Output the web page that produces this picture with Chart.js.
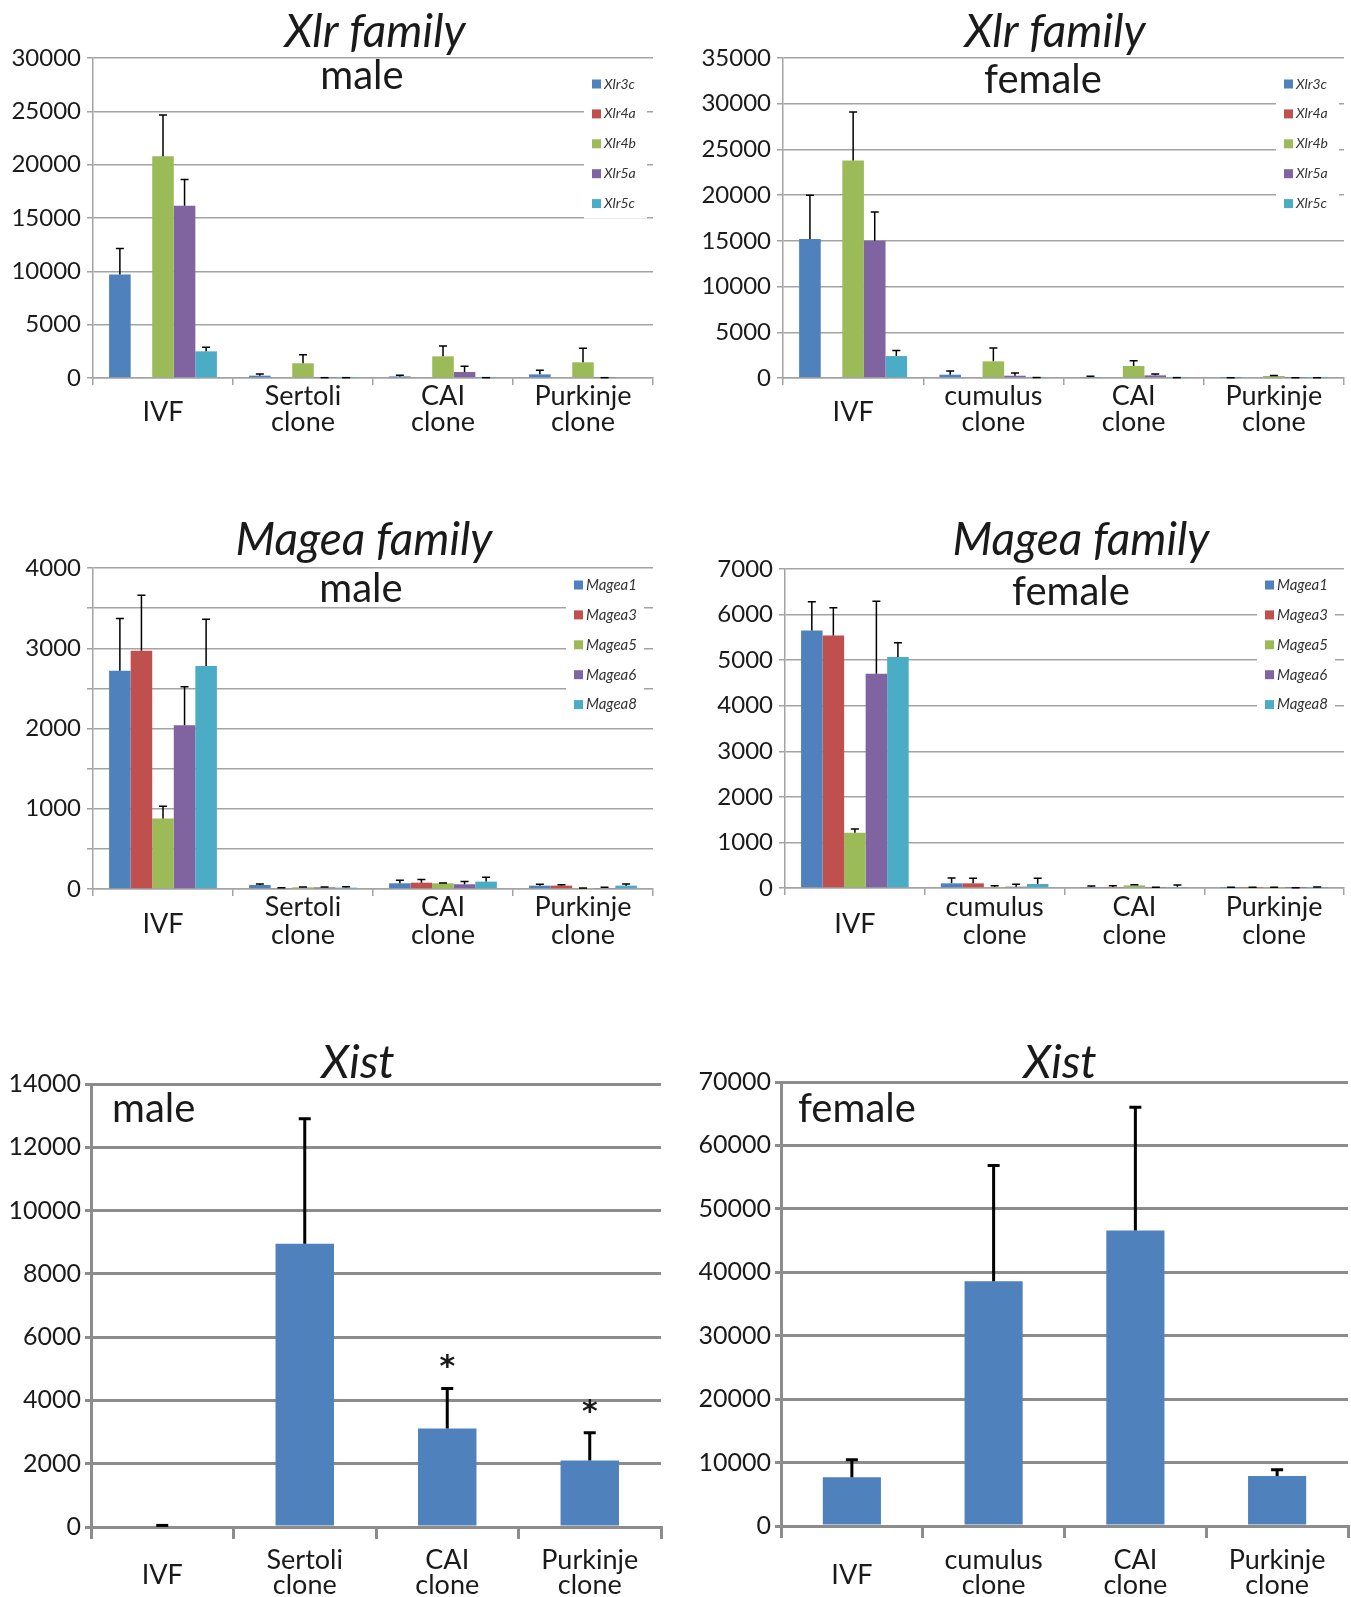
<!DOCTYPE html>
<html>
<head>
<meta charset="utf-8">
<script src="https://cdn.jsdelivr.net/npm/chart.js@4.4.1/dist/chart.umd.min.js"></script>
<style>
  body { margin: 0; background: #fff; width: 1351px; height: 1597px; position: relative; overflow: hidden; }
  canvas { position: absolute; }
</style>
</head>
<body>
<canvas id="xlrMale"></canvas>
<canvas id="xlrFemale"></canvas>
<canvas id="mageaMale"></canvas>
<canvas id="mageaFemale"></canvas>
<canvas id="xistMale"></canvas>
<canvas id="xistFemale"></canvas>
<script>
// categories
const maleGroups = ['IVF', 'Sertoli clone', 'CAI clone', 'Purkinje clone'];
const femaleGroups = ['IVF', 'cumulus clone', 'CAI clone', 'Purkinje clone'];
const xlrGenes = ['Xlr3c', 'Xlr4a', 'Xlr4b', 'Xlr5a', 'Xlr5c'];
const mageaGenes = ['Magea1', 'Magea3', 'Magea5', 'Magea6', 'Magea8'];
const geneColors = ['#4f81bd', '#c0504d', '#9bbb59', '#8064a2', '#4bacc6'];

// one row per gene, one column per group
const xlrMaleMean = [
  [9700, 220, 150, 340],
  [0, 0, 0, 0],
  [20800, 1380, 2030, 1470],
  [16150, 30, 560, 30],
  [2500, 30, 30, 0]
];
const xlrMaleErr = [
  [2450, 150, 100, 380],
  [0, 0, 0, 0],
  [3850, 810, 970, 1310],
  [2470, 0, 530, 0],
  [375, 0, 0, 0]
];
const xlrFemaleMean = [
  [15200, 360, 110, 30],
  [0, 0, 0, 0],
  [23800, 1820, 1310, 220],
  [15000, 250, 290, 30],
  [2400, 50, 40, 30]
];
const xlrFemaleErr = [
  [4800, 400, 70, 0],
  [0, 0, 0, 0],
  [5300, 1460, 590, 40],
  [3150, 300, 150, 0],
  [600, 0, 0, 0]
];
const mageaMaleMean = [
  [2720, 50, 71, 42],
  [2970, 8, 79, 42],
  [880, 21, 71, 12],
  [2040, 21, 59, 12],
  [2780, 17, 92, 42]
];
const mageaMaleErr = [
  [650, 13, 38, 17],
  [690, 7, 38, 12],
  [150, 4, 4, 0],
  [480, 4, 33, 9],
  [580, 12, 54, 21]
];
const mageaFemaleMean = [
  [5650, 102, 22, 5],
  [5540, 102, 22, 5],
  [1210, 22, 58, 8],
  [4700, 29, 7, 3],
  [5070, 88, 22, 8]
];
const mageaFemaleErr = [
  [630, 117, 22, 10],
  [610, 110, 29, 10],
  [85, 29, 15, 7],
  [1590, 51, 8, 5],
  [310, 124, 44, 14]
];
const xistMaleMean = [50, 8950, 3110, 2100];
const xistMaleErr = [0, 3950, 1270, 880];
const xistMaleStars = ['', '', '*', '*'];
const xistFemaleMean = [7700, 38600, 46600, 7900];
const xistFemaleErr = [2750, 18240, 19400, 960];

const FONT = 'Lato, "Open Sans", sans-serif';
const INK = '#1a1a1a';

// titles, legends, error bars, category labels
const decor = {
  id: 'decor',
  afterDatasetsDraw(chart, args, o) {
    const ctx = chart.ctx, y = chart.scales.y;
    ctx.save();
    ctx.strokeStyle = '#000';
    ctx.lineWidth = o.errWidth;
    chart.data.datasets.forEach((ds, i) => {
      chart.getDatasetMeta(i).data.forEach((bar, j) => {
        const v = ds.data[j], e = ds.err[j];
        if (!v && !e) return;
        const top = y.getPixelForValue(v + e);
        ctx.beginPath();
        ctx.moveTo(bar.x, bar.y);
        ctx.lineTo(bar.x, top);
        ctx.moveTo(bar.x - o.cap, top);
        ctx.lineTo(bar.x + o.cap, top);
        ctx.stroke();
        if (ds.stars && ds.stars[j]) {
          ctx.fillStyle = INK;
          ctx.font = 'bold 30px "DejaVu Sans", sans-serif';
          ctx.textAlign = 'center';
          ctx.textBaseline = 'middle';
          ctx.fillText(ds.stars[j], bar.x, top - 20);
        }
      });
    });
    ctx.restore();
  },
  afterDraw(chart, args, o) {
    const ctx = chart.ctx, x = chart.scales.x;
    const bx = o.box[0], by = o.box[1];
    ctx.save();
    ctx.fillStyle = INK;
    ctx.textBaseline = 'middle';
    // title
    ctx.textAlign = 'center';
    ctx.font = 'italic 46px ' + FONT;
    ctx.fillText(o.title, o.titleAt[0] - bx, o.titleAt[1] - by);
    // sex label
    ctx.textAlign = o.subAlign;
    ctx.font = '40px ' + FONT;
    ctx.fillText(o.sub, o.subAt[0] - bx, o.subAt[1] - by);
    // category labels
    ctx.textAlign = 'center';
    ctx.font = o.catFont + 'px ' + FONT;
    chart.data.labels.forEach((lines, i) => {
      const cx = x.getPixelForValue(i);
      if (lines.length === 1) {
        ctx.fillText(lines[0], cx, o.catSingle - by);
      } else {
        lines.forEach((t, k) => ctx.fillText(t, cx, o.catLines[k] - by));
      }
    });
    // legend inside the plot
    if (o.legendAt) {
      const lx = o.legendAt[0] - bx, ly = o.legendAt[1] - by, step = 29.9;
      const n = chart.data.datasets.length;
      ctx.fillStyle = '#fff';
      ctx.fillRect(lx - 8, ly - 15, o.legendW, step * (n - 1) + 30);
      ctx.font = 'italic ' + o.legendFont + 'px ' + FONT;
      ctx.textAlign = 'left';
      chart.data.datasets.forEach((ds, i) => {
        ctx.fillStyle = ds.backgroundColor;
        ctx.fillRect(lx, ly + i * step - 4.5, 9, 9);
        ctx.fillStyle = '#333';
        ctx.fillText(ds.label, lx + 12, ly + i * step);
      });
    }
    ctx.restore();
  }
};

function makePanel(id, box, plot, groups, datasets, yMax, yStep, labelEvery, deco, heavy) {
  const cv = document.getElementById(id);
  cv.width = box[2];
  cv.height = box[3];
  cv.style.left = box[0] + 'px';
  cv.style.top = box[1] + 'px';
  const gridCol = heavy ? '#8c8c8c' : '#a3a3a3';
  const lw = heavy ? 3 : 1.5;
  deco.box = box;
  new Chart(cv, {
    type: 'bar',
    data: { labels: groups.map(g => g.split(' ')), datasets: datasets },
    options: {
      responsive: false,
      animation: false,
      layout: { padding: { left: 0, top: plot[1] - box[1], right: box[0] + box[2] - plot[2], bottom: 0 } },
      plugins: { legend: { display: false }, tooltip: { enabled: false }, decor: deco },
      scales: {
        x: {
          ticks: { display: false },
          grid: { offset: true, drawOnChartArea: false, color: gridCol, lineWidth: lw, tickLength: heavy ? 12 : 7 },
          border: { color: gridCol, width: lw },
          afterFit: s => { s.height = box[1] + box[3] - plot[3]; }
        },
        y: {
          min: 0,
          max: yMax,
          ticks: {
            stepSize: yStep,
            color: INK,
            padding: heavy ? 4 : 6,
            font: { family: FONT, size: heavy ? 25 : 24 },
            callback: v => (v % labelEvery === 0 ? String(v) : '')
          },
          grid: { color: gridCol, lineWidth: lw, tickLength: 6 },
          border: { color: gridCol, width: lw },
          afterFit: s => { s.width = plot[0] - box[0]; }
        }
      }
    },
    plugins: [decor]
  });
}

function geneSets(names, means, errs) {
  return names.map((n, i) => ({
    label: n,
    data: means[i],
    err: errs[i],
    backgroundColor: geneColors[i],
    borderWidth: 0,
    barPercentage: 1,
    categoryPercentage: 0.77
  }));
}

function xistSet(means, errs, stars) {
  return [{
    label: 'Xist',
    data: means,
    err: errs,
    stars: stars,
    backgroundColor: '#4f81bd',
    borderWidth: 0,
    barPercentage: 0.41,
    categoryPercentage: 1
  }];
}

makePanel('xlrMale', [0, 0, 670, 450], [93, 58, 653, 378], maleGroups,
  geneSets(xlrGenes, xlrMaleMean, xlrMaleErr), 30000, 5000, 5000,
  { title: 'Xlr family', titleAt: [375, 32], sub: 'male', subAt: [362, 76], subAlign: 'center',
    catFont: 27, catSingle: 412, catLines: [396, 422], legendAt: [592, 84], legendW: 63, legendFont: 14,
    errWidth: 1.5, cap: 4 });

makePanel('xlrFemale', [675, 0, 676, 450], [783, 58, 1344, 378], femaleGroups,
  geneSets(xlrGenes, xlrFemaleMean, xlrFemaleErr), 35000, 5000, 5000,
  { title: 'Xlr family', titleAt: [1055, 32], sub: 'female', subAt: [1043, 80], subAlign: 'center',
    catFont: 27, catSingle: 412, catLines: [396, 422], legendAt: [1284, 84], legendW: 63, legendFont: 14,
    errWidth: 1.5, cap: 4 });

makePanel('mageaMale', [0, 495, 670, 460], [93, 568, 653, 889], maleGroups,
  geneSets(mageaGenes, mageaMaleMean, mageaMaleErr), 4000, 500, 1000,
  { title: 'Magea family', titleAt: [364, 540], sub: 'male', subAt: [361, 589], subAlign: 'center',
    catFont: 27, catSingle: 924, catLines: [907, 935], legendAt: [574, 585], legendW: 78, legendFont: 15,
    errWidth: 1.5, cap: 4 });

makePanel('mageaFemale', [675, 495, 676, 460], [785, 569, 1344, 888], femaleGroups,
  geneSets(mageaGenes, mageaFemaleMean, mageaFemaleErr), 7000, 1000, 1000,
  { title: 'Magea family', titleAt: [1081, 540], sub: 'female', subAt: [1071, 592], subAlign: 'center',
    catFont: 27, catSingle: 924, catLines: [907, 935], legendAt: [1265, 585], legendW: 78, legendFont: 15,
    errWidth: 1.5, cap: 4 });

makePanel('xistMale', [0, 1010, 675, 587], [91, 1084, 661, 1527], maleGroups,
  xistSet(xistMaleMean, xistMaleErr, xistMaleStars), 14000, 2000, 2000,
  { title: 'Xist', titleAt: [358, 1063], sub: 'male', subAt: [112, 1109], subAlign: 'left',
    catFont: 27, catSingle: 1575, catLines: [1560, 1585], errWidth: 3, cap: 6 }, true);

makePanel('xistFemale', [675, 1010, 676, 587], [781, 1082, 1348, 1526], femaleGroups,
  xistSet(xistFemaleMean, xistFemaleErr, null), 70000, 10000, 10000,
  { title: 'Xist', titleAt: [1060, 1063], sub: 'female', subAt: [798, 1109], subAlign: 'left',
    catFont: 27, catSingle: 1575, catLines: [1560, 1585], errWidth: 3, cap: 6 }, true);
</script>
</body>
</html>
